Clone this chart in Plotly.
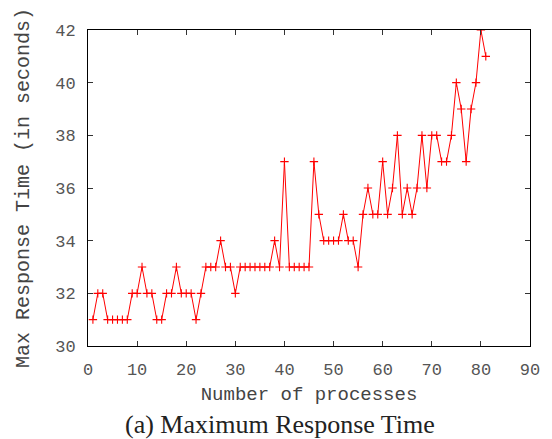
import plotly.graph_objects as go

procs = list(range(1, 82))
max_resp = [31, 32, 32, 31, 31, 31, 31, 31, 32, 32,
            33, 32, 32, 31, 31, 32, 32, 33, 32, 32,
            32, 31, 32, 33, 33, 33, 34, 33, 33, 32,
            33, 33, 33, 33, 33, 33, 33, 34, 33, 37,
            33, 33, 33, 33, 33, 37, 35, 34, 34, 34,
            34, 35, 34, 34, 33, 35, 36, 35, 35, 37,
            35, 36, 38, 35, 36, 35, 36, 38, 36, 38,
            38, 37, 37, 38, 40, 39, 37, 39, 40, 42,
            41]

x_ticks = list(range(0, 91, 10))
y_ticks = list(range(30, 43, 2))

mono = "Liberation Mono, Courier New, monospace"

fig = go.Figure()
fig.add_trace(go.Scatter(
    x=procs, y=max_resp, mode="lines+markers",
    line=dict(color="#ff0000", width=1),
    marker=dict(symbol="cross-thin", size=6, line=dict(color="#ff0000", width=1.1)),
    showlegend=False,
))

axis_common = dict(
    showgrid=False, zeroline=False, showline=True, linecolor="black", linewidth=1,
    mirror="ticks", ticks="inside", ticklen=5, tickcolor="#333", tickwidth=1,
    tickfont=dict(family=mono, size=17, color="#555"),
)

fig.update_layout(
    width=552, height=439,
    margin=dict(l=88, r=19, t=30, b=93),
    paper_bgcolor="white", plot_bgcolor="white",
    xaxis=dict(range=[0, 90], tickvals=x_ticks, ticklabelstandoff=8,
               title=dict(text="Number of processes", font=dict(family=mono, size=19, color="#444"), standoff=7),
               **axis_common),
    yaxis=dict(range=[30, 42], tickvals=y_ticks, ticklabelstandoff=8,
               title=dict(text="Max Response Time (in seconds)", font=dict(family=mono, size=20, color="#444"), standoff=20),
               **axis_common),
    annotations=[dict(text="(a) Maximum Response Time", x=0, y=0, xref="paper", yref="paper",
                      xanchor="center", yanchor="middle", showarrow=False,
                      font=dict(family="Liberation Serif, Times New Roman, serif", size=26, color="#222"))],
)
# convert caption pixel position to paper coordinates
plot_w = 552 - 88 - 19
plot_h = 439 - 30 - 93
fig.layout.annotations[0].x = (281 - 88) / plot_w
fig.layout.annotations[0].y = (439 - 93 - 424) / plot_h

fig.write_html("out.html")
